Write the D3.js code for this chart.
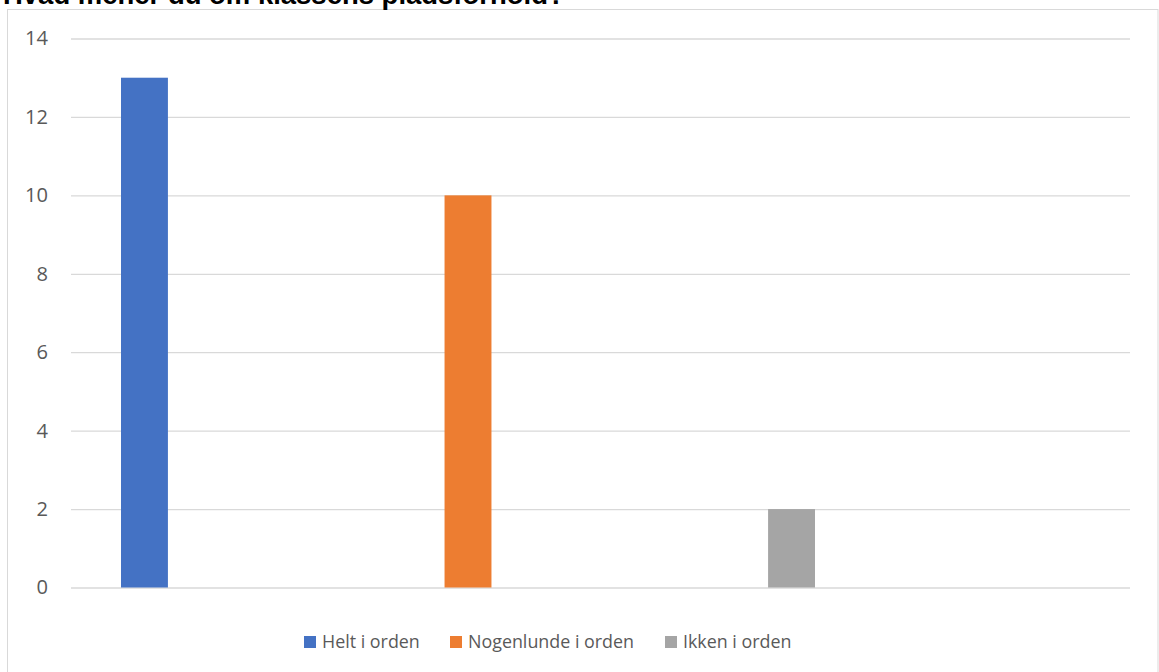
<!DOCTYPE html>
<html><head><meta charset="utf-8">
<script src="https://cdn.jsdelivr.net/npm/d3@7"></script>
<style>html,body{margin:0;padding:0;background:#fff;overflow:hidden}</style>
</head><body>
<svg id="c" width="1159" height="672"></svg>
<script>
const title = "Hvad mener du om klassens pladsforhold?";
const categories = ["Helt i orden", "Nogenlunde i orden", "Ikken i orden"];
const values = [13, 10, 2];
const colors = ["#4472c4", "#ed7d31", "#a5a5a5"];
const yTicks = [0, 2, 4, 6, 8, 10, 12, 14];

const svg = d3.select("#c");
const W = 1159, H = 672;
svg.append("rect").attr("width", W).attr("height", H).attr("fill", "#fff");
svg.append("rect").attr("x", 7.5).attr("y", 9.5).attr("width", 1150.5).attr("height", 700)
  .attr("fill", "#fff").attr("stroke", "#d9d9d9").attr("stroke-width", 1);

const t = svg.append("text").attr("x", 3).attr("y", 3.5)
  .attr("font-family", "Liberation Sans, Arial, sans-serif").attr("font-weight", "bold")
  .attr("font-size", 22).attr("fill", "#000").text(title);
const tl = t.node().getComputedTextLength();
t.attr("font-size", 22 * 562 / tl);

const fontFam = "'Open Sans', 'Noto Sans', sans-serif";
function fitSize(str, target, base) {
  const tmp = svg.append("text").attr("font-family", fontFam).attr("font-size", base).text(str);
  const w = tmp.node().getComputedTextLength();
  tmp.remove();
  return base * target / w;
}
const tickFs = fitSize("12", 23, 20);
const legFs = fitSize("Nogenlunde i orden", 166, 20);

const plotL = 71, plotR = 1130;
const y = d3.scaleLinear().domain([0, 14]).range([587.5, 38.5]);
const x = d3.scaleBand().domain(categories).range([121, 815]).paddingInner(0.855).paddingOuter(0);

const yAxis = d3.axisLeft(y).tickValues(yTicks).tickSize(-(plotR - plotL)).tickPadding(23);
const ga = svg.append("g").attr("transform", `translate(${plotL},0)`).call(yAxis);
ga.select(".domain").remove();
ga.selectAll(".tick line").attr("stroke", "#d9d9d9").attr("stroke-width", 1.3);
ga.selectAll(".tick text").attr("fill", "#595959").attr("font-size", tickFs).attr("font-family", fontFam);

svg.append("g").selectAll("rect").data(categories).join("rect")
  .attr("x", d => x(d)).attr("width", x.bandwidth())
  .attr("y", (d, i) => y(values[i])).attr("height", (d, i) => y(0) - y(values[i]))
  .attr("fill", (d, i) => colors[i]);

// legend
const legX = [304, 450, 665];
const lg = svg.append("g");
categories.forEach((c, i) => {
  lg.append("rect").attr("x", legX[i]).attr("y", 636).attr("width", 12).attr("height", 12).attr("fill", colors[i]);
  lg.append("text").attr("x", legX[i] + 18).attr("y", 642).attr("dy", "0.35em").attr("font-family", fontFam)
    .attr("font-size", legFs).attr("fill", "#595959").text(c);
});
</script>
</body></html>
